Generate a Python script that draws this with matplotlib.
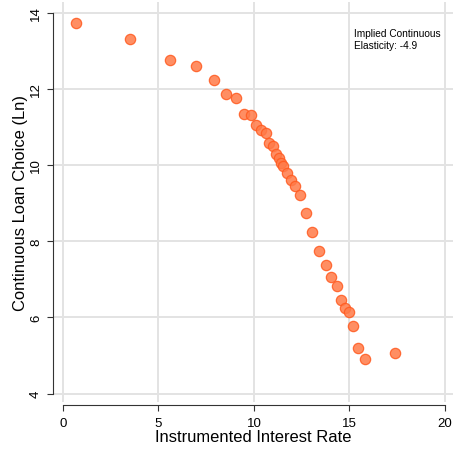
import matplotlib
matplotlib.use('Agg')
import matplotlib.pyplot as plt

plt.rcParams['font.family'] = ['Liberation Sans', 'DejaVu Sans']

# Binned scatter: instrumented rate vs. log loan choice
rate = [0.68, 3.5, 5.62, 6.98, 7.9, 8.55, 9.06, 9.48, 9.84, 10.09, 10.38, 10.61,
        10.80, 10.99, 11.15, 11.29, 11.43, 11.53, 11.74, 11.94, 12.16, 12.41,
        12.72, 13.05, 13.42, 13.77, 14.05, 14.33, 14.57, 14.78, 14.99, 15.18,
        15.45, 15.80, 17.40]
loan_ln = [13.72, 13.31, 12.76, 12.60, 12.23, 11.86, 11.76, 11.34, 11.31, 11.05,
           10.93, 10.84, 10.59, 10.49, 10.28, 10.18, 10.06, 9.97, 9.78, 9.62,
           9.44, 9.21, 8.74, 8.23, 7.75, 7.37, 7.06, 6.82, 6.47, 6.26, 6.15,
           5.78, 5.20, 4.92, 5.06]
x_ticks = [0, 5, 10, 15, 20]
y_ticks = [4, 6, 8, 10, 12, 14]
note = 'Implied Continuous\nElasticity: -4.9'

fig = plt.figure(figsize=(4.53, 4.52), dpi=100)
ax = fig.add_axes([53 / 453, 1 - 403 / 452, 400 / 453, 400 / 452])

ax.scatter(rate, loan_ln, s=55, color='#ff7a48', alpha=0.85,
           edgecolor='#ff5a1f', linewidth=0.9, zorder=3)

ax.set_xlim(-0.52, 20.42)
ax.set_ylim(3.78, 14.28)
ax.set_xticks(x_ticks)
ax.set_yticks(y_ticks)
ax.grid(True, color='#e3e3e3', linewidth=1.4)
ax.set_axisbelow(True)

for s in ['top', 'right']:
    ax.spines[s].set_visible(False)
ax.spines['left'].set_bounds(4, 14)
ax.spines['bottom'].set_bounds(0, 20)
ax.spines['bottom'].set_position(('outward', 2.5))
ax.spines['left'].set_color('#333333')
ax.spines['bottom'].set_color('#333333')
ax.tick_params(direction='out', length=4.5, width=0.8, color='#333333',
               labelsize=9.5)
for lbl in ax.get_yticklabels():
    lbl.set_rotation(90)
    lbl.set_va('center')

ax.set_xlabel('Instrumented Interest Rate', fontsize=11.9, labelpad=0.5)
ax.set_ylabel('Continuous Loan Choice (Ln)', fontsize=11.9, labelpad=1.5)

ax.text(15.25, 13.6, note, fontsize=7.3, va='top', ha='left',
        linespacing=1.3)

fig.savefig('out.png', dpi=100)
